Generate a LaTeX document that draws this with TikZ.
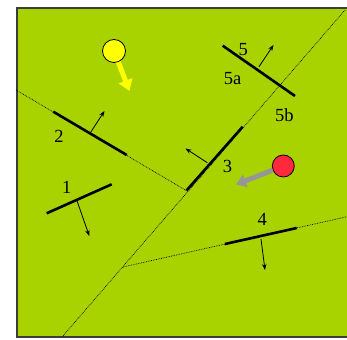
\documentclass[tikz,border=0pt]{standalone}
\usepackage{fontspec}
\setmainfont{Liberation Serif}
\usetikzlibrary{arrows.meta}
\definecolor{bg}{RGB}{168,210,0}
\definecolor{frame}{RGB}{60,60,60}
\definecolor{sunyellow}{RGB}{255,255,0}
\definecolor{ballred}{RGB}{255,40,60}
\definecolor{shadowgray}{RGB}{150,150,150}
\begin{document}
\begin{tikzpicture}[x=1pt,y=-1pt,
  split/.style={line width=0.7pt, densely dotted, black},
  wall/.style={line width=2.6pt, black},
  normalarrow/.style={line width=0.8pt, -{Stealth[length=6pt,width=4.5pt]}},
  lab/.style={font=\fontsize{18.5}{18.5}\selectfont, inner sep=0pt},
  ball/.style={circle, draw=black, line width=0.8pt, minimum size=23pt, inner sep=0pt}
]
\useasboundingbox (0,0) rectangle (347,339);
\fill[bg] (17,8) rectangle (350,337);
\draw[frame, line width=1.5pt] (350,8) -- (17,8) -- (17,337) -- (350,337);

% splitting lines
\coordinate (a1) at (16,90);
\coordinate (v1) at (187,191);
\coordinate (b1) at (345,10);
\coordinate (b2) at (62,337);
\coordinate (v2) at (123,267);
\coordinate (c1) at (350,216);
\draw[split] (a1) -- (v1);
\draw[split] (b1) -- (b2);
\draw[split] (v2) -- (c1);

% walls
\coordinate (w1a) at (46.7,213.3); \coordinate (w1b) at (111.7,184.3);
\coordinate (w2a) at (53.3,111.7); \coordinate (w2b) at (126.7,155);
\coordinate (w3a) at (186.5,190.5); \coordinate (w3b) at (242.7,126.7);
\coordinate (w4a) at (225,244); \coordinate (w4b) at (296.7,228);
\coordinate (w5a) at (222.7,45.7); \coordinate (w5b) at (295,96);
\draw[wall] (w1a) -- (w1b);
\draw[wall] (w2a) -- (w2b);
\draw[wall] (w3a) -- (w3b);
\draw[wall] (w4a) -- (w4b);
\draw[wall] (w5a) -- (w5b);

% normals
\coordinate (n1s) at (76.7,200); \coordinate (n1e) at (89.3,236);
\coordinate (n2s) at (90,133.3); \coordinate (n2e) at (104.5,111);
\coordinate (n3s) at (207.3,162.7); \coordinate (n3e) at (185.5,148.5);
\coordinate (n4s) at (261,239); \coordinate (n4e) at (265,270);
\coordinate (n5s) at (259,66.7); \coordinate (n5e) at (273.5,45);
\draw[normalarrow] (n1s) -- (n1e);
\draw[normalarrow] (n2s) -- (n2e);
\draw[normalarrow] (n3s) -- (n3e);
\draw[normalarrow] (n4s) -- (n4e);
\draw[normalarrow] (n5s) -- (n5e);

% labels
\node[lab] (l1) at (66.7,187.5) {1};
\node[lab] (l2) at (59,136.7) {2};
\node[lab] (l3) at (227.5,166.7) {3};
\node[lab] (l4) at (262.3,219.5) {4};
\node[lab] (l5) at (243.3,49.5) {5};
\node[lab] (l5a) at (232.7,79) {5a};
\node[lab] (l5b) at (284.3,115) {5b};

% light and viewer
\node[ball, fill=sunyellow] (sun) at (114,51) {};
\coordinate (suntip) at (129.5,91);
\draw[sunyellow, line width=5pt, -{Triangle[length=11pt,width=14pt]}] (sun) -- (suntip);
\node[ball, fill=ballred, minimum size=22pt] (eye) at (283.3,166) {};
\coordinate (eyetip) at (236,184.5);
\draw[shadowgray, line width=5pt, -{Triangle[length=10pt,width=13pt]}] (eye) -- (eyetip);
\end{tikzpicture}
\end{document}
